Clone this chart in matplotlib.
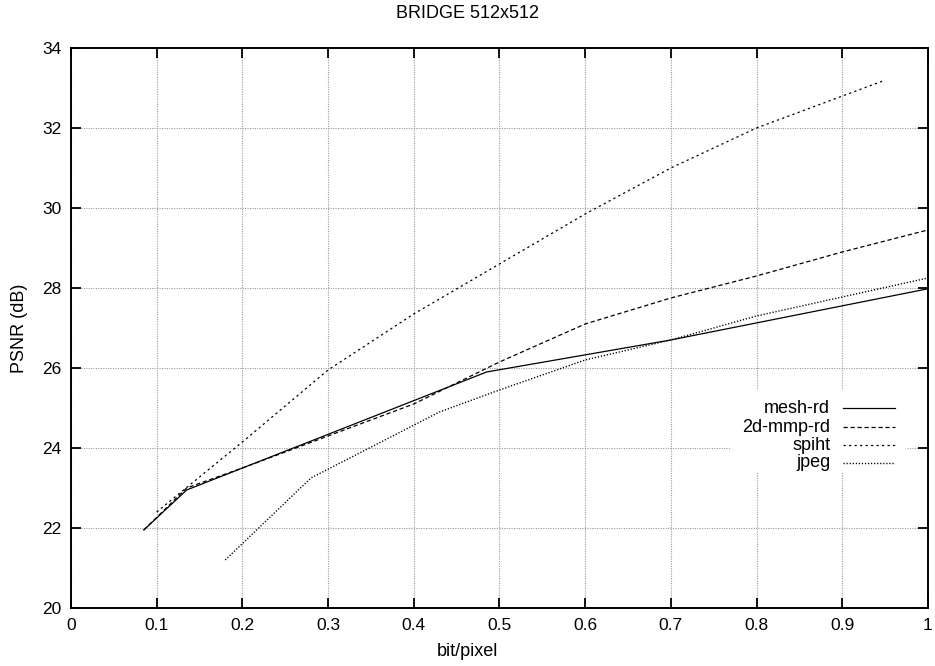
import matplotlib
matplotlib.use("Agg")
import matplotlib.pyplot as plt

plt.rcParams['font.family'] = ['Liberation Sans', 'DejaVu Sans']

# rate-distortion curves (bit/pixel vs PSNR in dB)
mesh_x = [0.085, 0.135, 0.485, 0.70, 1.00]
mesh_y = [21.95, 22.95, 25.90, 26.70, 27.98]

mmp_x = [0.085, 0.135, 0.20, 0.30, 0.40, 0.50, 0.60, 0.70, 0.80, 0.90, 1.00]
mmp_y = [21.95, 23.00, 23.50, 24.30, 25.10, 26.15, 27.10, 27.75, 28.30, 28.90, 29.45]

spiht_x = [0.10, 0.20, 0.30, 0.40, 0.50, 0.60, 0.70, 0.80, 0.948]
spiht_y = [22.40, 24.15, 25.95, 27.35, 28.60, 29.85, 31.00, 32.00, 33.18]

jpeg_x = [0.18, 0.28, 0.43, 0.50, 0.60, 0.70, 0.80, 1.00]
jpeg_y = [21.20, 23.25, 24.90, 25.45, 26.20, 26.70, 27.30, 28.25]

series_names = ["mesh-rd", "2d-mmp-rd", "spiht", "jpeg"]
x_ticks = [0, 0.1, 0.2, 0.3, 0.4, 0.5, 0.6, 0.7, 0.8, 0.9, 1]
x_tick_labels = ["0", "0.1", "0.2", "0.3", "0.4", "0.5", "0.6", "0.7", "0.8", "0.9", "1"]
y_ticks = [20, 22, 24, 26, 28, 30, 32, 34]

fig = plt.figure(figsize=(9.35, 6.66), dpi=100)
ax = fig.add_axes([0.0759, 0.0871, 0.9166, 0.8409])

styles = [
    dict(color="black", lw=0.9, linestyle="-"),
    dict(color="black", lw=0.9, linestyle=(0, (3.4, 2.2))),
    dict(color="black", lw=0.9, linestyle=(0, (1.8, 2.6))),
    dict(color="black", lw=1.0, linestyle=(0, (0.9, 1.3))),
]

data = [(mesh_x, mesh_y), (mmp_x, mmp_y), (spiht_x, spiht_y), (jpeg_x, jpeg_y)]
for (xs, ys), st in zip(data, styles):
    ax.plot(xs, ys, zorder=3, **st)

ax.set_xlim(0, 1)
ax.set_ylim(20, 34)
ax.set_xticks(x_ticks)
ax.set_xticklabels(x_tick_labels)
ax.set_yticks(y_ticks)
ax.grid(True, color="#999999", linestyle=(0, (1, 1.2)), lw=0.8, zorder=0)
ax.tick_params(direction="in", length=7, width=1.3, top=True, right=True,
               labelsize=12.5, pad=7)
for sp in ax.spines.values():
    sp.set_linewidth(1.4)

# key box: labels right-aligned, samples to the right
ax.add_patch(plt.Rectangle((0.769, 0.241), 0.206, 0.148, transform=ax.transAxes,
                           facecolor="white", edgecolor="none", zorder=2))
row_y = [0.357, 0.323, 0.291, 0.259]
for name, st, yy in zip(series_names, styles, row_y):
    ax.text(0.886, yy, name, transform=ax.transAxes, ha="right", va="center",
            fontsize=13, zorder=4)
    ax.plot([0.901, 0.962], [yy, yy], transform=ax.transAxes, zorder=4, **st)

fig.text(0.5, 0.979, "BRIDGE 512x512", ha="center", va="center", fontsize=13)
fig.text(0.5, 0.022, "bit/pixel", ha="center", va="center", fontsize=13)
fig.text(0.021, 0.507, "PSNR (dB)", ha="center", va="center", rotation=90, fontsize=13)

fig.savefig("out.png", dpi=100)
